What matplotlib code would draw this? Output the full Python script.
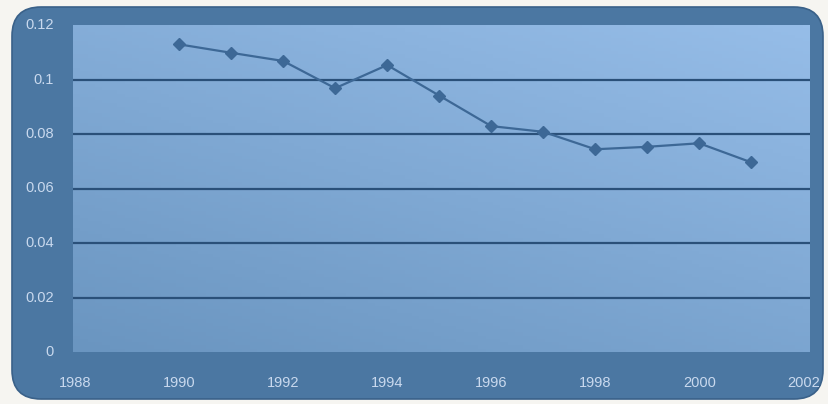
import matplotlib
matplotlib.use("Agg")
import matplotlib.pyplot as plt
import numpy as np
from matplotlib.patches import FancyBboxPatch

years = [1990, 1991, 1992, 1993, 1994, 1995, 1996, 1997, 1998, 1999, 2000, 2001]
values = [0.1129, 0.1098, 0.1068, 0.0968, 0.1053, 0.0941, 0.0829, 0.0808,
          0.0744, 0.0753, 0.0766, 0.0696]
x_ticks = [1988, 1990, 1992, 1994, 1996, 1998, 2000, 2002]
y_ticks = [0, 0.02, 0.04, 0.06, 0.08, 0.1, 0.12]
y_labels = ["0", "0.02", "0.04", "0.06", "0.08", "0.1", "0.12"]

plt.rcParams["font.family"] = ["Liberation Sans", "DejaVu Sans"]

W, H = 829, 404
fig = plt.figure(figsize=(W / 100, H / 100), dpi=100)
fig.patch.set_facecolor("#f6f5f1")

# outer rounded frame
frame = FancyBboxPatch((12 / W, 5 / H), 811 / W, 392 / H,
                       boxstyle="round,pad=0,rounding_size=0.035",
                       transform=fig.transFigure, facecolor="#4b77a2",
                       edgecolor="#3a6189", linewidth=1.2,
                       mutation_aspect=W / H, zorder=-10)
fig.add_artist(frame)

ax = fig.add_axes([73 / W, 1 - 352 / H, (810 - 73) / W, (352 - 25) / H])
ax.set_facecolor("none")
ax.set_zorder(5)

# gradient fill for plot area
gy, gx = np.mgrid[0:1:100j, 0:1:100j]
shade = 0.6 * gy + 0.4 * gx
c_lo = np.array([0x6a, 0x95, 0xc0]) / 255
c_hi = np.array([0x96, 0xbd, 0xe8]) / 255
img = c_lo + shade[..., None] / shade.max() * (c_hi - c_lo)
ax.imshow(img, origin="lower", extent=[0, 1, 0, 1], transform=ax.transAxes,
          aspect="auto", zorder=0)

ax.set_xlim(1987.96, 2002.13)
ax.set_ylim(0, 0.12)

for yv in y_ticks[1:-1]:
    ax.axhline(yv, color="#2a5079", linewidth=1.6, zorder=1)

ax.plot(years, values, color="#3d6896", linewidth=1.6, marker="D",
        markersize=6.5, markerfacecolor="#3d6896", markeredgecolor="#3d6896",
        zorder=3)

for s in ax.spines.values():
    s.set_visible(False)
ax.set_xticks([])
ax.set_yticks([])

lab_col = "#c9d9ee"
for yv, lab in zip(y_ticks, y_labels):
    ax.text(-0.026, yv, lab, transform=ax.get_yaxis_transform(),
            ha="right", va="center", fontsize=10.5, color=lab_col, clip_on=False)
for xv in x_ticks:
    ax.text(xv, -0.095, str(xv), transform=ax.get_xaxis_transform(),
            ha="center", va="center", fontsize=10.5, color=lab_col, clip_on=False)

fig.savefig("out.png", dpi=100)
